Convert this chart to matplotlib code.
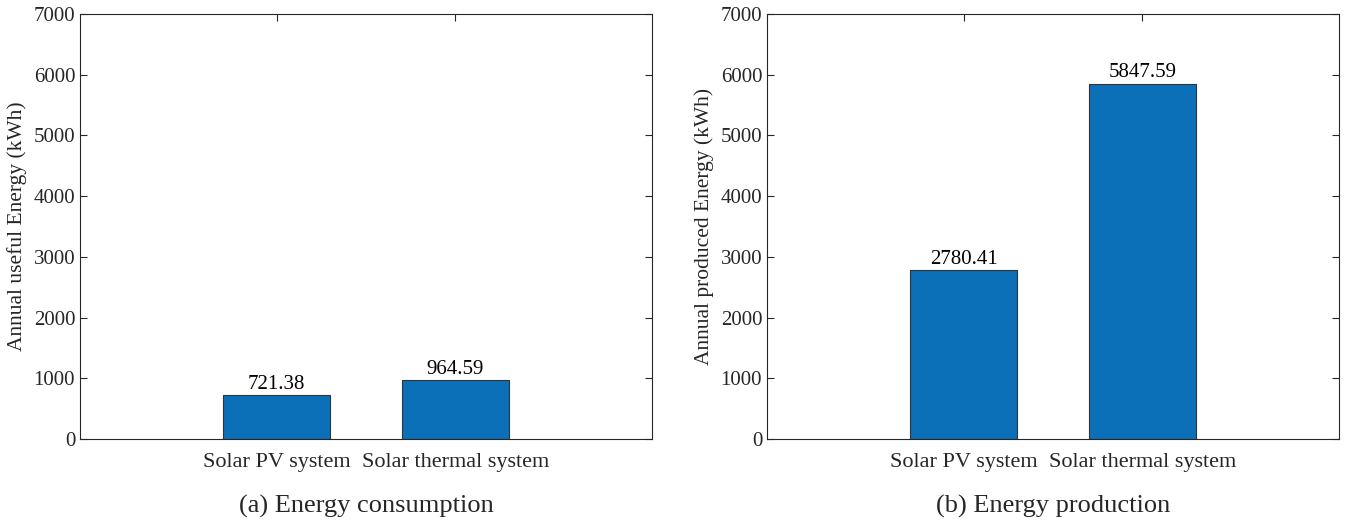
import matplotlib
matplotlib.use("Agg")
import matplotlib.pyplot as plt

categories = ["Solar PV system", "Solar thermal system"]
consumption = [721.38, 964.59]
production = [2780.41, 5847.59]
ylabels = ["Annual useful Energy (kWh)", "Annual produced Energy (kWh)"]
captions = ["(a) Energy consumption", "(b) Energy production"]
yticks = [0, 1000, 2000, 3000, 4000, 5000, 6000, 7000]

plt.rcParams['font.family'] = ['Liberation Serif', 'DejaVu Serif']

fig = plt.figure(figsize=(13.54, 5.24), dpi=100)
lefts = [80 / 1354, 767 / 1354]
w = 572 / 1354
b = (524 - 439) / 524
h = 425 / 524
txt = '#262626'
axc = '#262626'
for i, vals in enumerate([consumption, production]):
    ax = fig.add_axes([lefts[i], b, w, h])
    x = [1, 2]
    ax.bar(x, vals, width=0.6, color='#0C70B8', edgecolor='#333333', linewidth=0.8, zorder=2)
    for xi, v in zip(x, vals):
        ax.text(xi, v + 25, f"{v:.2f}", ha='center', va='bottom', fontsize=15, color='black')
    ax.set_xlim(-0.1, 3.1)
    ax.set_ylim(0, 7000)
    ax.set_xticks(x)
    ax.set_xticklabels(categories, fontsize=16, color=txt)
    ax.set_yticks(yticks)
    ax.set_yticklabels([str(t) for t in yticks], fontsize=15, color=txt)
    ax.tick_params(direction='in', top=True, right=True, length=5, width=0.8, colors=axc, labelcolor=txt)
    ax.tick_params(axis='x', pad=10)
    for s in ax.spines.values():
        s.set_color(axc)
        s.set_linewidth(0.8)
    ax.set_ylabel(ylabels[i], fontsize=15.5, color=txt, labelpad=5)
    fig.text(lefts[i] + w / 2, 1 - 506 / 524, captions[i], ha='center', va='center', fontsize=19, color=txt)

fig.savefig("out.png", dpi=100)
